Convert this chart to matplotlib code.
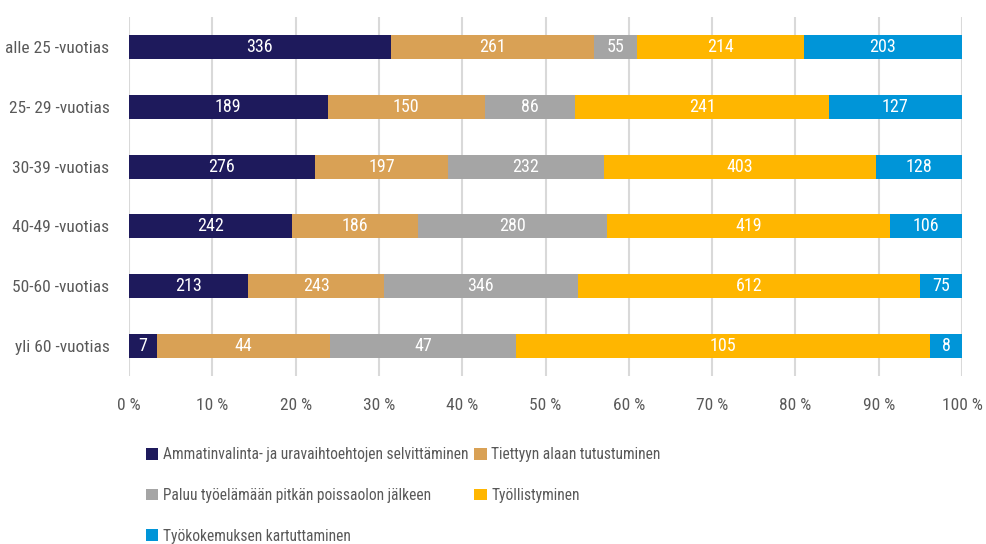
import matplotlib

matplotlib.use("Agg")

import matplotlib.pyplot as plt
import numpy as np
from matplotlib import font_manager
from matplotlib.patches import Patch

# narrow font if one is installed, otherwise Roboto at a smaller size
installed = {f.name for f in font_manager.fontManager.ttflist}
candidates = [("Roboto Condensed", 13), ("Noto Sans Condensed", 12.5), ("Liberation Sans Narrow", 13),
              ("Open Sans Condensed", 13), ("Roboto", 11)]
font_name, fs = next(((n, s) for n, s in candidates if n in installed), ("DejaVu Sans", 10))
plt.rcParams["font.family"] = [font_name, "DejaVu Sans"]
legend_fs = fs * 0.86

categories = [
    "alle 25 -vuotias",
    "25- 29 -vuotias",
    "30-39 -vuotias",
    "40-49 -vuotias",
    "50-60 -vuotias",
    "yli 60 -vuotias",
]
series_names = [
    "Ammatinvalinta- ja uravaihtoehtojen selvittäminen",
    "Tiettyyn alaan tutustuminen",
    "Paluu työelämään pitkän poissaolon jälkeen",
    "Työllistyminen",
    "Työkokemuksen kartuttaminen",
]
ammatinvalinta = [336, 189, 276, 242, 213, 7]
tiettyyn_alaan = [261, 150, 197, 186, 243, 44]
paluu = [55, 86, 232, 280, 346, 47]
tyollistyminen = [214, 241, 403, 419, 612, 105]
tyokokemus = [203, 127, 128, 106, 75, 8]
x_ticks = [0, 10, 20, 30, 40, 50, 60, 70, 80, 90, 100]

colors = ["#1e1a5c", "#d9a155", "#a5a5a5", "#ffb600", "#0095d8"]
text_color = "#595959"

values = np.array([ammatinvalinta, tiettyyn_alaan, paluu, tyollistyminen, tyokokemus], dtype=float)
totals = values.sum(axis=0)
shares = values / totals * 100

fig = plt.figure(figsize=(9.86, 5.44), dpi=100)
ax = fig.add_axes([0.1308, 0.3088, 0.8449, 0.66])

y = np.arange(len(categories))
left = np.zeros(len(categories))
handles = []
for i, name in enumerate(series_names):
    bars = ax.barh(y, shares[i], left=left, height=0.4, color=colors[i], zorder=3)
    for rect, v in zip(bars, values[i]):
        ax.text(rect.get_x() + rect.get_width() / 2, rect.get_y() + rect.get_height() / 2,
                f"{int(v)}", ha="center", va="center", color="white", fontsize=fs, zorder=4)
    left += shares[i]
    handles.append(Patch(facecolor=colors[i], label=name))

ax.set_ylim(len(categories) - 0.5, -0.5)
ax.set_xlim(0, 100)
ax.set_yticks(y)
ax.set_yticklabels(categories, fontsize=fs * 0.96, color=text_color)
ax.set_xticks(x_ticks)
ax.set_xticklabels([f"{t} %" for t in x_ticks], fontsize=fs * 0.96, color=text_color)
ax.tick_params(axis="y", length=0, pad=14)
ax.tick_params(axis="x", length=0, pad=16)
ax.grid(axis="x", color="#d9d9d9", linewidth=1.5, zorder=0)
for s in ax.spines.values():
    s.set_visible(False)

order = [0, 2, 4, 1, 3]
fig.legend([handles[i] for i in order], [series_names[i] for i in order],
           ncol=2, loc="upper left", bbox_to_anchor=(0.148, 0.178), frameon=False,
           fontsize=legend_fs, labelcolor=text_color, handlelength=0.78, handleheight=0.78,
           handletextpad=0.3, columnspacing=0.4, labelspacing=1.66, borderaxespad=0,
           borderpad=0)

fig.savefig("out.png", dpi=100, facecolor="white")
